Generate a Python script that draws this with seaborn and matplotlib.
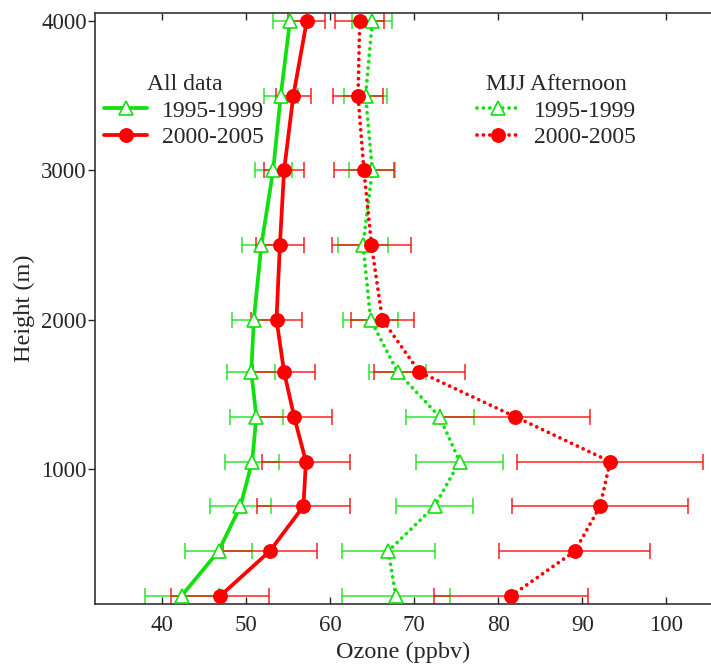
import numpy as np
import pandas as pd
import seaborn as sns
import matplotlib.pyplot as plt

# Heights of the profile levels (m)
height = [150, 450, 750, 1050, 1350, 1650, 2000, 2500, 3000, 3500, 4000]

# All data
all_9599 = [42.3, 46.7, 49.3, 50.7, 51.2, 50.6, 50.9, 51.8, 53.2, 54.1, 55.2]
all_9599_err = [4.4, 4.0, 3.6, 3.25, 3.15, 2.85, 2.65, 2.25, 2.2, 2.0, 2.0]
all_0005 = [46.9, 52.8, 56.8, 57.1, 55.7, 54.5, 53.6, 54.0, 54.5, 55.6, 57.2]
all_0005_err = [5.8, 5.6, 5.5, 5.2, 4.5, 3.65, 3.0, 2.85, 2.4, 2.05, 2.2]

# MJJ afternoon
mjj_9599 = [67.8, 66.9, 72.4, 75.4, 73.0, 68.0, 64.8, 63.9, 65.0, 64.2, 65.0]
mjj_9599_err = [6.4, 5.5, 4.6, 5.2, 4.05, 3.4, 3.25, 2.95, 2.75, 2.6, 2.4]
mjj_0005 = [81.5, 89.1, 92.1, 93.3, 82.0, 70.6, 66.2, 64.9, 64.0, 63.3, 63.5]
mjj_0005_err = [9.2, 9.0, 10.45, 11.1, 8.9, 5.4, 3.75, 4.75, 3.6, 3.0, 2.9]

green = '#10e010'
red = '#ff0000'

sns.set_style('ticks')
plt.rcParams['font.family'] = ['Liberation Serif', 'DejaVu Serif']
plt.rcParams['font.size'] = 16

fig = plt.figure(figsize=(7.11, 6.66), dpi=100)
ax = fig.add_axes([0.1336, 0.0931, 0.8664, 0.8874])

dotted = (0, (0.01, 1.7))
series = [
    (all_9599, all_9599_err, green, '-', '^', 'white', '1995-1999'),
    (all_0005, all_0005_err, red, '-', 'o', red, '2000-2005'),
    (mjj_9599, mjj_9599_err, green, dotted, '^', 'white', '1995-1999'),
    (mjj_0005, mjj_0005_err, red, dotted, 'o', red, '2000-2005'),
]

handles = []
for vals, err, col, ls, mk, mfc, lab in series:
    ax.errorbar(vals, height, xerr=err, fmt='none', ecolor=col, elinewidth=1.2,
                capsize=6, capthick=1.2, alpha=0.8, zorder=1)
for vals, err, col, ls, mk, mfc, lab in series:
    df = pd.DataFrame({'ozone': vals, 'height': height})
    sns.lineplot(data=df, x='ozone', y='height', sort=False, orient='y', ax=ax,
                 color=col, linestyle=ls, lw=2.7,
                 marker=mk, markersize=9.5, mfc=mfc, mec=col, mew=1.2,
                 dash_capstyle='round', label=lab, zorder=3)
    handles.append(ax.lines[-1])

ax.set_xlim(32, 105.3)
ax.set_ylim(96, 4054)
ax.set_xticks([40, 50, 60, 70, 80, 90, 100])
ax.set_yticks([1000, 2000, 3000, 4000])
ax.set_xlabel('Ozone (ppbv)', fontsize=17.5, labelpad=4)
ax.set_ylabel('Height (m)', fontsize=17.5, labelpad=4)

ax.tick_params(axis='x', direction='in', top=True, length=5, width=1, labelsize=16.5, pad=8)
ax.tick_params(axis='y', direction='out', length=5, width=1, labelsize=16.5, pad=1)
for s in ['left', 'bottom', 'top']:
    ax.spines[s].set_linewidth(1.2)
    ax.spines[s].set_color('#333333')
ax.spines['right'].set_visible(False)

leg_kw = dict(loc='upper left', frameon=False, fontsize=17, title_fontsize=17,
              handlelength=1.8, labelspacing=0.2, borderaxespad=0,
              handletextpad=0.65)
leg1 = ax.legend(handles[:2], ['1995-1999', '2000-2005'], title='All data',
                 bbox_to_anchor=(0.0, 0.912), **leg_kw)
ax.add_artist(leg1)
ax.legend(handles[2:], ['1995-1999', '2000-2005'], title='MJJ Afternoon',
          bbox_to_anchor=(0.604, 0.912), **leg_kw)

fig.savefig('out.png', dpi=100)
